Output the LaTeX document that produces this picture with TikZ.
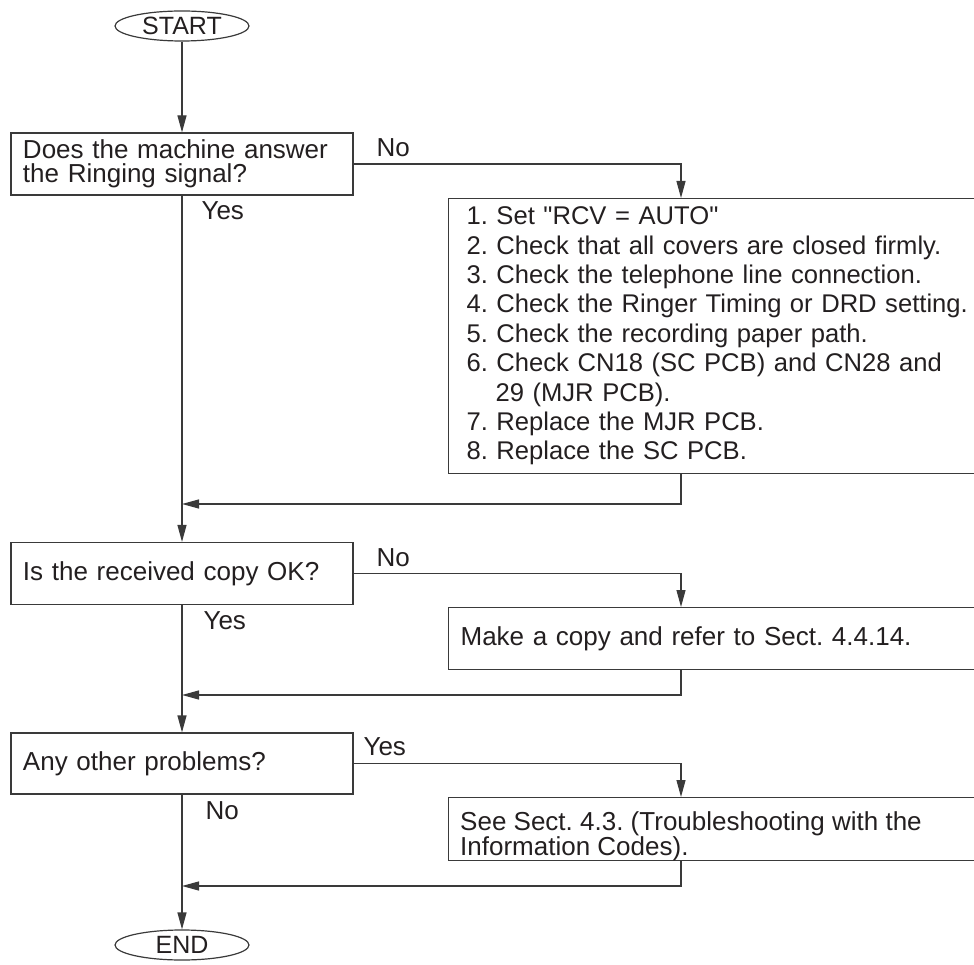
\documentclass[tikz,border=0pt]{standalone}
\usepackage{fontspec}
\setmainfont{Liberation Sans}[Ligatures=TeXOff]
\usepackage{tikz}
\usetikzlibrary{arrows.meta,positioning,shapes.geometric}
\definecolor{ink}{HTML}{231F20}
\definecolor{rule}{HTML}{3A3A3A}
\frenchspacing

\begin{document}
\begin{tikzpicture}[x=1pt,y=-1pt,
  every node/.style={font=\fontsize{26}{24}\selectfont,text=ink},
  term/.style={draw=rule,ellipse,line width=1.2pt,minimum width=134pt,minimum height=30pt,inner sep=0pt},
  ask/.style={draw=rule,line width=1.2pt,minimum width=342pt,minimum height=62pt,text width=318pt,inner xsep=12pt,align=left},
  fix/.style={draw=rule,line width=1.2pt,anchor=north west,text width=530pt,inner xsep=12pt,align=left},
  flow/.style={draw=rule,line width=1.2pt,-{Triangle[length=17pt,width=9pt]}},
  tag/.style={anchor=base west}]
  \path[use as bounding box,clip] (0,0) rectangle (974,965);
  \node[term,font=\fontsize{25}{24}\selectfont] (start) at (182,26) {START};
  \node[ask] (q1) at (182,164) {Does the machine answer\\the Ringing signal?};
  \node[fix,minimum height=275pt,inner xsep=18pt,font=\fontsize{25.6}{29.4}\selectfont] (a1) at (448,198)
    {1. Set "RCV = AUTO"\\
     2. Check that all covers are closed firmly.\\
     3. Check the telephone line connection.\\
     4. Check the Ringer Timing or DRD setting.\\
     5. Check the recording paper path.\\
     6. Check CN18 (SC PCB) and CN28 and\\
     \hspace*{29pt}29 (MJR PCB).\\
     7. Replace the MJR PCB.\\
     8. Replace the SC PCB.};
  \node[ask] (q2) at (182,573.5) {Is the received copy OK?};
  \node[fix,minimum height=62pt] (a2) at (448,607) {Make a copy and refer to Sect. 4.4.14.};
  \node[ask,minimum height=61pt] (q3) at (182,763.5) {Any other problems?};
  \node[fix,minimum height=63pt] (a3) at (448,797) {};
  \node[anchor=west,inner xsep=0pt,align=left,font=\fontsize{26}{23}\selectfont] (a3text) at (460,836)
    {See Sect. 4.3. (Troubleshooting with the\\Information Codes).};
  \node[term,font=\fontsize{25}{24}\selectfont] (end) at (182,945) {END};
  \node[tag] (no1) at (373,157) {No};
  \node[tag] (yes1) at (198,220) {Yes};
  \node[tag] (no2) at (373,566) {No};
  \node[tag] (yes2) at (200,629) {Yes};
  \node[tag] (yes3) at (360,755) {Yes};
  \node[tag] (no3) at (202,819) {No};
  \coordinate (drop) at (681,0);
  \coordinate (back1) at (182,504);
  \coordinate (back2) at (182,695);
  \coordinate (back3) at (182,886);
  \draw[flow] (start) -- (q1);
  \draw[flow] (q1.east) -| (a1.north -| drop);
  \draw[flow] (a1.south -| drop) |- (back1);
  \draw[flow] (q1) -- (q2);
  \draw[flow] (q2.east) -| (a2.north -| drop);
  \draw[flow] (a2.south -| drop) |- (back2);
  \draw[flow] (q2) -- (q3);
  \draw[flow] (q3.east) -| (a3.north -| drop);
  \draw[flow] (a3.south -| drop) |- (back3);
  \draw[flow] (q3) -- (end);
\end{tikzpicture}
\end{document}
